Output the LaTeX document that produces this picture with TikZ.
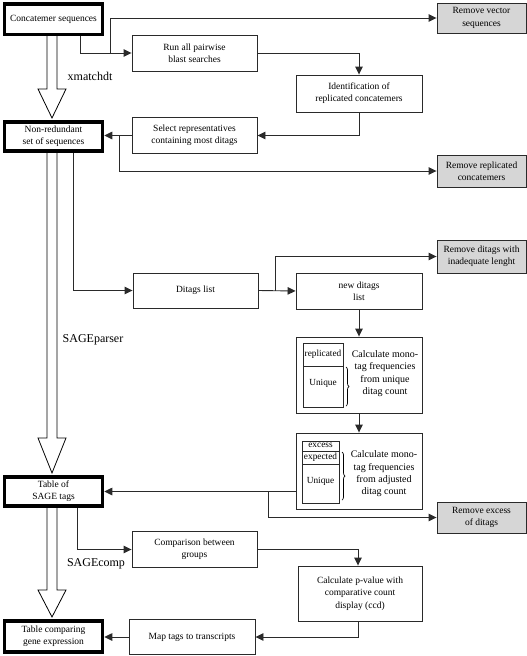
\documentclass[tikz,border=0pt]{standalone}
\usepackage{fontspec}
\setmainfont{Liberation Serif}
\usetikzlibrary{arrows.meta,decorations.pathreplacing}
\definecolor{lineg}{HTML}{2A2A2A}
\definecolor{boxgray}{HTML}{D6D6D6}
\tikzset{
  mainbox/.style={draw=black,line width=3.5pt,fill=white,minimum width=98pt,inner sep=1pt,align=center,font=\fontsize{9.5}{12.3}\selectfont},
  stepbox/.style={draw=lineg,line width=0.9pt,fill=white,inner sep=1pt,align=center,font=\fontsize{9.5}{12.3}\selectfont},
  graybox/.style={draw=lineg,line width=0.9pt,fill=boxgray,minimum width=89pt,inner sep=1pt,align=center,font=\fontsize{9.5}{12.3}\selectfont},
  conn/.style={draw=lineg,line width=0.9pt},
  arr/.style={conn,-{Triangle[length=8pt,width=7.5pt]}},
  hollow/.style={draw=black,line width=0.8pt,fill=white},
  tool/.style={font=\fontsize{12}{14}\selectfont},
  small/.style={font=\fontsize{9.3}{11}\selectfont,inner sep=0pt},
  bracestyle/.style={draw=black,line width=0.7pt,decorate,decoration={brace,amplitude=3pt}}
}
\begin{document}
\begin{tikzpicture}[x=1pt,y=-1pt]
\useasboundingbox (0,0) rectangle (527,656);
% hollow arrows
\draw[hollow] (47,30) -- (47,89) -- (38,89) -- (52,118) -- (66,89) -- (57,89) -- (57,30);
\draw[hollow] (47,148) -- (47,438) -- (38,438) -- (52,473) -- (66,438) -- (57,438) -- (57,148);
\draw[hollow] (47,503) -- (47,590) -- (38,590) -- (52,617) -- (66,590) -- (57,590) -- (57,503);
% main boxes
\node[mainbox,minimum height=30.5pt] (c1) at (53.5,19) {Concatemer sequences};
\node[mainbox,minimum height=29pt] (c2) at (53.5,136.5) {Non-redundant\\set of sequences};
\node[mainbox,minimum height=29pt] (c3) at (53.5,491.5) {Table of\\SAGE tags};
\node[mainbox,minimum height=31pt] (c4) at (53.5,636.5) {Table comparing\\gene expression};
% step boxes
\node[stepbox,minimum width=125pt,minimum height=36pt] (run) at (194.5,53) {Run all pairwise\\blast searches};
\node[stepbox,minimum width=126pt,minimum height=37pt] (ident) at (359,93.5) {Identification of\\replicated concatemers};
\node[stepbox,minimum width=125pt,minimum height=36pt] (sel) at (194.5,135.5) {Select representatives\\containing most ditags};
\node[stepbox,minimum width=125pt,minimum height=35pt] (dit) at (195.5,290.5) {Ditags list};
\node[stepbox,minimum width=126pt,minimum height=36pt] (newd) at (359,291) {new ditags\\list};
\node[stepbox,minimum width=126pt,minimum height=76pt] (calcA) at (359,375) {};
\node[stepbox,minimum width=126pt,minimum height=76pt] (calcB) at (359,471) {};
\node[stepbox,minimum width=125pt,minimum height=36pt] (comp) at (194.5,549.5) {Comparison between\\groups};
\node[stepbox,minimum width=124pt,minimum height=55pt] (pval) at (360,593.5) {Calculate p-value with\\comparative count\\display (ccd)};
\node[stepbox,minimum width=126pt,minimum height=35pt] (map) at (192,637) {Map tags to transcripts};
% gray boxes
\node[graybox,minimum height=30pt] (rvec) at (481.5,18) {Remove vector\\sequences};
\node[graybox,minimum height=32pt] (rrep) at (481.5,171) {Remove replicated\\concatemers};
\node[graybox,minimum height=33pt] (rdit) at (481.5,256.5) {Remove ditags with\\inadequate lenght};
\node[graybox,minimum height=31pt] (rexc) at (481.5,517.5) {Remove excess\\of ditags};
% inner content of calc boxes
\draw[lineg,line width=0.8pt] (303,343) rectangle (343,407);
\draw[lineg,line width=0.8pt] (303,366) -- (343,366);
\node[small] (repl) at (323,354.5) {replicated};
\node[small] (uniA) at (323,383) {Unique};
\draw[bracestyle] (346,367) -- (346,406);
\node[align=center,font=\fontsize{10}{12.3}\selectfont,inner sep=0pt] (tA) at (385,373.5) {Calculate mono-\\tag frequencies\\from unique\\ditag count};
\draw[lineg,line width=0.8pt] (302,441) rectangle (339,503);
\draw[lineg,line width=0.8pt] (302,451) -- (339,451);
\draw[lineg,line width=0.8pt] (302,464) -- (339,464);
\node[small] (exc) at (320.5,445.5) {excess};
\node[small] (expd) at (320.5,457.5) {expected};
\node[small] (uniB) at (320.5,481) {Unique};
\draw[bracestyle] (342,452) -- (342,500);
\node[align=center,font=\fontsize{10}{12.3}\selectfont,inner sep=0pt] (tB) at (384,474) {Calculate mono-\\tag frequencies\\from adjusted\\ditag count};
% tool labels
\node[tool] (lx) at (90,76) {xmatchdt};
\node[tool] (lp) at (93,340) {SAGEparser};
\node[tool] (lc) at (96,564) {SAGEcomp};
% connectors
\coordinate (j1) at (110,53);
\draw[arr] (c1.south -| 80,0) |- (run.west);
\draw[arr] (j1) |- (rvec.west);
\draw[arr] (run.east) -| (ident.north);
\draw[arr] (ident.south) |- (sel.east);
\draw[arr] (sel.west) -- (c2.east |- sel.west);
\coordinate (j2) at (119,135.5);
\draw[arr] (j2) |- (rrep.west);
\draw[arr] (c2.south -| 73,0) |- (dit.west);
\draw[arr] (dit.east) -- (newd.west);
\coordinate (j3) at (275,290.5);
\draw[arr] (j3) |- (rdit.west);
\draw[arr] (newd.south -| 359,0) -- (calcA.north);
\draw[arr] (calcA.south) -- (calcB.north);
\draw[arr] (calcB.west |- c3.east) -- (c3.east);
\coordinate (j4) at (268,491.5);
\draw[arr] (j4) |- (rexc.west);
\draw[arr] (c3.south -| 77,0) |- (comp.west);
\draw[arr] (comp.east) -| (pval.north -| 358,0);
\draw[arr] (pval.south -| 358,0) |- (map.east);
\draw[arr] (map.west) -- (c4.east |- map.west);
\end{tikzpicture}
\end{document}
